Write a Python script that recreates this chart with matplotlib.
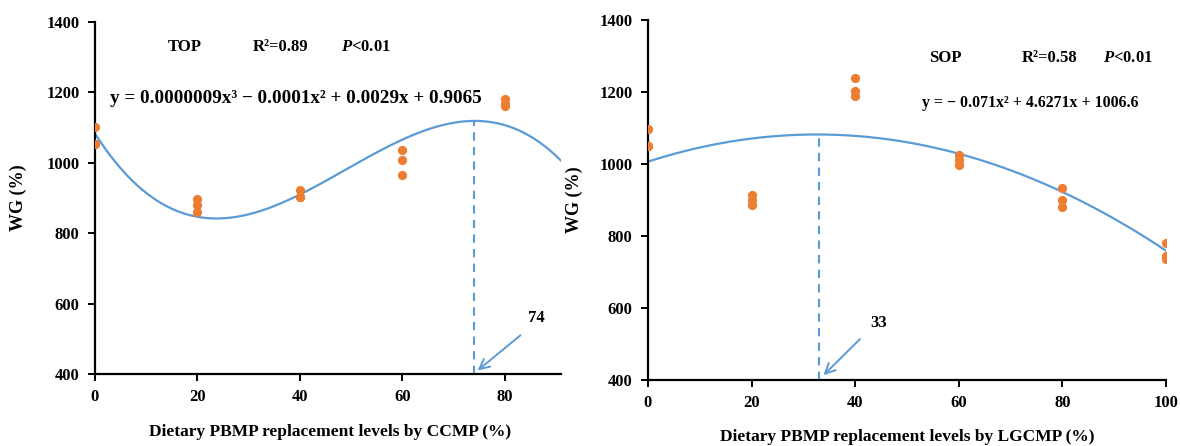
import numpy as np
import matplotlib
matplotlib.use("Agg")
import matplotlib.pyplot as plt

plt.rcParams['font.family'] = ['Liberation Serif', 'DejaVu Serif']
plt.rcParams['font.weight'] = 'bold'
plt.rcParams['mathtext.fontset'] = 'custom'
plt.rcParams['mathtext.rm'] = 'Liberation Serif:bold'
plt.rcParams['mathtext.it'] = 'Liberation Serif:italic:bold'
plt.rcParams['mathtext.bf'] = 'Liberation Serif:bold'

# ---- data: left panel (CCMP, TOP) ----
top_x = [0, 0, 0, 20, 20, 20, 40, 40, 40, 60, 60, 60, 80, 80, 80]
top_y = [1103, 1052, 1052, 896, 880, 861, 922, 904, 904, 1035, 1007, 966, 1180, 1168, 1160]
# points read on the fitted cubic trend line
top_curve_x = [0, 24.5, 74, 91]
top_curve_y = [1083, 842, 1119, 1006]
top_opt = 74

# ---- data: right panel (LGCMP, SOP) ----
sop_x = [0, 0, 0, 20, 20, 20, 40, 40, 40, 60, 60, 60, 80, 80, 80, 100, 100, 100]
sop_y = [1098, 1049, 1049, 915, 900, 886, 1239, 1202, 1188, 1026, 1011, 998, 934, 899, 881, 781, 745, 735]
sop_coef = [-0.071, 4.6271, 1006.6]
sop_opt = 33

yticks = [400, 600, 800, 1000, 1200, 1400]
top_xticks = [0, 20, 40, 60, 80]
sop_xticks = [0, 20, 40, 60, 80, 100]

ORANGE = '#ED7D31'
BLUE = '#5B9BD5'

fig = plt.figure(figsize=(11.8, 4.46), dpi=100)
axL = fig.add_axes([95/1180, 1-374/446, 466/1180, 352/446])
axR = fig.add_axes([648/1180, 1-380/446, 518/1180, 360/446])

def style(ax, xmax, xticks):
    ax.set_xlim(0, xmax)
    ax.set_ylim(400, 1400)
    ax.set_xticks(xticks)
    ax.set_yticks(yticks)
    for s in ['top', 'right']:
        ax.spines[s].set_visible(False)
    for s in ['left', 'bottom']:
        ax.spines[s].set_linewidth(1.6)
        ax.spines[s].set_color('black')
    ax.tick_params(axis='both', direction='out', length=5, width=1.4,
                   labelsize=12, pad=6)
    for lab in ax.get_xticklabels() + ax.get_yticklabels():
        lab.set_fontweight('bold')
    ax.set_ylabel('WG (%)', fontsize=13, fontweight='bold')

# Left panel
style(axL, 91, top_xticks)
coef_top = np.polyfit(top_curve_x, top_curve_y, 3)
xs = np.linspace(0, 91, 300)
axL.plot(xs, np.polyval(coef_top, xs), color=BLUE, lw=1.6, zorder=2)
axL.scatter(top_x, top_y, s=44, color=ORANGE, zorder=3, linewidths=0)
ymax_top = np.polyval(coef_top, top_opt)
axL.plot([top_opt, top_opt], [400, ymax_top], ls=(0, (4, 3)), color=BLUE, lw=1.5, zorder=2)
axL.annotate('', xy=(top_opt + 0.3, 405), xytext=(83.5, 515),
             arrowprops=dict(arrowstyle='->', color=BLUE, lw=1.4, mutation_scale=18))
axL.text(84.5, 558, str(top_opt), fontsize=12, fontweight='bold', ha='left', va='center')
axL.text(17.6, 1329, 'TOP', fontsize=12, fontweight='bold', ha='center', va='center')
axL.text(36.3, 1329, 'R²=0.89', fontsize=12, fontweight='bold', ha='center', va='center')
axL.text(52.9, 1329, r'$\mathit{P}$<0.01', fontsize=12, fontweight='bold', ha='center', va='center')
axL.text(2.9, 1184, 'y = 0.0000009x³ − 0.0001x² + 0.0029x + 0.9065',
         fontsize=13.8, fontweight='bold', ha='left', va='center')
axL.set_xlabel('Dietary PBMP replacement levels by CCMP (%)', fontsize=12.5, fontweight='bold')
axL.yaxis.set_label_coords(-0.146, 0.5)
axL.xaxis.set_label_coords(0.505, -0.143)

# Right panel
style(axR, 100, sop_xticks)
xs2 = np.linspace(0, 100, 300)
axR.plot(xs2, np.polyval(sop_coef, xs2), color=BLUE, lw=1.6, zorder=2)
axR.scatter(sop_x, sop_y, s=44, color=ORANGE, zorder=3, linewidths=0)
ymax_sop = np.polyval(sop_coef, sop_opt)
axR.plot([sop_opt, sop_opt], [400, ymax_sop], ls=(0, (4, 3)), color=BLUE, lw=1.5, zorder=2)
axR.annotate('', xy=(sop_opt + 0.5, 408), xytext=(41.3, 519),
             arrowprops=dict(arrowstyle='->', color=BLUE, lw=1.4, mutation_scale=18))
axR.text(43, 558, str(sop_opt), fontsize=12, fontweight='bold', ha='left', va='center')
axR.text(57.3, 1294, 'SOP', fontsize=12, fontweight='bold', ha='center', va='center')
axR.text(77.6, 1294, 'R²=0.58', fontsize=12, fontweight='bold', ha='center', va='center')
axR.text(92.7, 1294, r'$\mathit{P}$<0.01', fontsize=12, fontweight='bold', ha='center', va='center')
axR.text(73.7, 1169, 'y = − 0.071x² + 4.6271x + 1006.6',
         fontsize=11.4, fontweight='bold', ha='center', va='center')
axR.set_xlabel('Dietary PBMP replacement levels by LGCMP (%)', fontsize=12.5, fontweight='bold')
axR.yaxis.set_label_coords(-0.125, 0.5)
axR.xaxis.set_label_coords(0.5, -0.136)

fig.savefig('out.png', dpi=100)
